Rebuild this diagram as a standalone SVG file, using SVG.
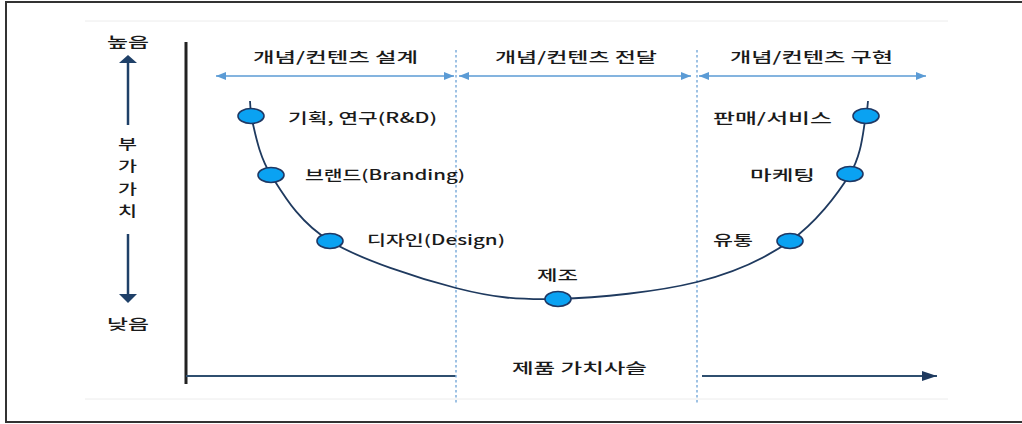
<svg xmlns="http://www.w3.org/2000/svg" width="1022" height="424" viewBox="0 0 1022 424">
<defs>
<style>
.t{font-family:"Noto Sans CJK KR","Noto Sans",sans-serif;font-size:14px;fill:#1a1a1a;font-weight:500;}
.hdr{stroke:#5B9BD5;stroke-width:1.5;fill:none;}
.dash{stroke:#7FAEDB;stroke-width:1.5;stroke-dasharray:2.5,2.5;fill:none;}
.node{fill:#0AA2F2;stroke:#1F3864;stroke-width:1.6;}
.curve{stroke:#1F3A5F;stroke-width:1.8;fill:none;}
.axis{stroke:#2F4F6F;stroke-width:2;fill:none;}
.varrow{stroke:#1F4068;stroke-width:2.5;fill:none;}
</style>
<marker id="ha" viewBox="0 0 10 8" refX="10" refY="4" markerWidth="10" markerHeight="8" markerUnits="userSpaceOnUse" orient="auto-start-reverse">
<path d="M0,0 L10,4 L0,8 Z" fill="#5B9BD5"/>
</marker>
<marker id="xa" viewBox="0 0 15 10" refX="15" refY="5" markerWidth="15" markerHeight="10" markerUnits="userSpaceOnUse" orient="auto">
<path d="M0,0 L15,5 L0,10 Z" fill="#1F3A5F"/>
</marker>
</defs>
<rect x="0" y="0" width="1022" height="424" fill="#fff"/>
<!-- frame -->
<path d="M1024,2 L6,2 L6,422 L1024,422" fill="none" stroke="#333" stroke-width="2"/>
<!-- faint guide lines -->
<line x1="85" y1="21" x2="948" y2="21" stroke="#ececec" stroke-width="1"/>
<line x1="85" y1="399" x2="948" y2="399" stroke="#ececec" stroke-width="1"/>

<g id="connectors">
<!-- y axis -->
<line x1="186" y1="42" x2="186" y2="384" stroke="#222" stroke-width="3"/>
<!-- x axis -->
<line class="axis" x1="186" y1="376" x2="456" y2="376"/>
<line class="axis" x1="702" y1="376" x2="937" y2="376" marker-end="url(#xa)"/>
<!-- dashed dividers -->
<line class="dash" x1="456" y1="50" x2="456" y2="404"/>
<line class="dash" x1="697" y1="50" x2="697" y2="404"/>
<!-- header arrows -->
<line class="hdr" x1="216" y1="76" x2="454" y2="76" marker-start="url(#ha)" marker-end="url(#ha)"/>
<line class="hdr" x1="459" y1="76" x2="691" y2="76" marker-start="url(#ha)" marker-end="url(#ha)"/>
<line class="hdr" x1="699" y1="76" x2="926" y2="76" marker-start="url(#ha)" marker-end="url(#ha)"/>
<!-- value arrows -->
<line class="varrow" x1="128" y1="63" x2="128" y2="125"/>
<path d="M128,55 L137,63 L119,63 Z" fill="#1F4068"/>
<line class="varrow" x1="128" y1="234" x2="128" y2="294"/>
<path d="M128,303 L137,294 L119,294 Z" fill="#1F4068"/>
<!-- value chain curve -->
<path class="curve" d="M250,101 C250.3,106 250.7,111 251,116 C254.5,128.3 257.8,154.2 271,175 C284.2,195.8 299.2,222.2 330,241 C360.8,259.8 418,278.3 456,288 C494,297.7 517.8,300 558,299 C598.2,298 658.3,291.7 697,282 C735.7,272.3 764.5,259 790,241 C815.5,223 837.3,194.8 850,174 C862.7,153.2 863,128.2 866,116 C867,111 867.7,106 868,101"/>
</g>

<g id="headers">
<text class="t" x="253" y="62" textLength="165" lengthAdjust="spacingAndGlyphs">개념/컨텐츠 설계</text>
<text class="t" x="495" y="62" textLength="162" lengthAdjust="spacingAndGlyphs">개념/컨텐츠 전달</text>
<text class="t" x="730" y="62" textLength="163" lengthAdjust="spacingAndGlyphs">개념/컨텐츠 구현</text>
</g>

<g id="value-axis-labels">
<text class="t" x="107" y="47" textLength="42" lengthAdjust="spacingAndGlyphs">높음</text>
<text class="t" x="118" y="149" textLength="19" lengthAdjust="spacingAndGlyphs">부</text>
<text class="t" x="118" y="171" textLength="19" lengthAdjust="spacingAndGlyphs">가</text>
<text class="t" x="118" y="194" textLength="19" lengthAdjust="spacingAndGlyphs">가</text>
<text class="t" x="118" y="216" textLength="19" lengthAdjust="spacingAndGlyphs">치</text>
<text class="t" x="107" y="329" textLength="42" lengthAdjust="spacingAndGlyphs">낮음</text>
<text class="t" x="512" y="373" textLength="135" lengthAdjust="spacingAndGlyphs">제품 가치사슬</text>
</g>

<g id="node-rnd">
<ellipse class="node" cx="251" cy="116" rx="13" ry="7.5"/>
<text class="t" x="288" y="123" textLength="149" lengthAdjust="spacingAndGlyphs">기획, 연구(R&amp;D)</text>
</g>
<g id="node-branding">
<ellipse class="node" cx="271" cy="175" rx="13" ry="7.5"/>
<text class="t" x="305" y="180" textLength="160" lengthAdjust="spacingAndGlyphs">브랜드(Branding)</text>
</g>
<g id="node-design">
<ellipse class="node" cx="330" cy="241" rx="13" ry="7.5"/>
<text class="t" x="367" y="245" textLength="138" lengthAdjust="spacingAndGlyphs">디자인(Design)</text>
</g>
<g id="node-manufacturing">
<ellipse class="node" cx="558" cy="299" rx="13" ry="7.5"/>
<text class="t" x="537" y="280" textLength="41" lengthAdjust="spacingAndGlyphs">제조</text>
</g>
<g id="node-distribution">
<ellipse class="node" cx="790" cy="241" rx="13" ry="7.5"/>
<text class="t" x="713" y="245" textLength="40" lengthAdjust="spacingAndGlyphs">유통</text>
</g>
<g id="node-marketing">
<ellipse class="node" cx="850" cy="174" rx="13" ry="7.5"/>
<text class="t" x="750" y="180" textLength="65" lengthAdjust="spacingAndGlyphs">마케팅</text>
</g>
<g id="node-sales">
<ellipse class="node" cx="866" cy="116" rx="13" ry="7.5"/>
<text class="t" x="713" y="123" textLength="119" lengthAdjust="spacingAndGlyphs">판매/서비스</text>
</g>
</svg>
